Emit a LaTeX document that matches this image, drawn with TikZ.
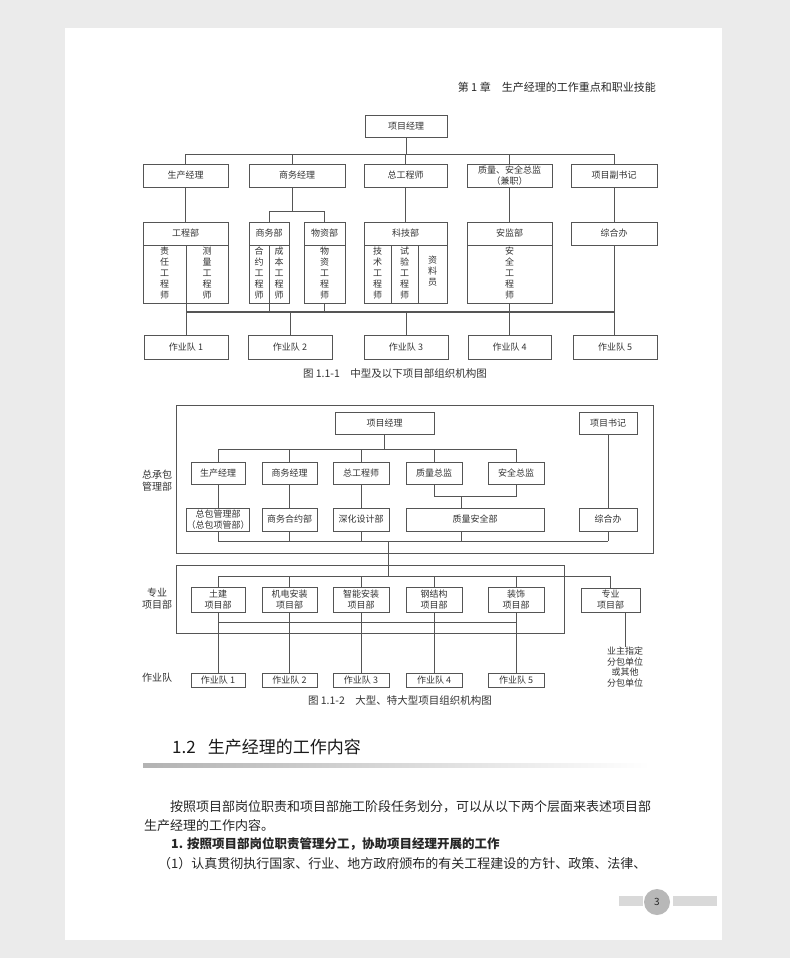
\documentclass[tikz,border=0pt]{standalone}
\usepackage{fontspec}
\setmainfont{Noto Sans CJK SC}
\usetikzlibrary{calc}
\definecolor{ln}{HTML}{555555}
\definecolor{txt}{HTML}{333333}
\definecolor{bgpage}{HTML}{EBEBEB}
\tikzset{
  bx/.style={draw=ln, line width=0.7pt, inner sep=0pt, outer sep=0pt, font=\fontsize{9}{11}\selectfont, text=txt, align=center},
  cn/.style={draw=ln, line width=0.7pt},
  bus/.style={draw=ln, line width=1.1pt},
  lbl/.style={inner sep=0pt, text=txt, align=center, font=\fontsize{9}{11}\selectfont},
  vt/.style={inner sep=0pt, text=txt, align=center, font=\fontsize{9}{11}\selectfont},
  outerbox/.style={draw=ln, line width=0.8pt},
  capt/.style={inner sep=0pt, text=txt, font=\fontsize{10.5}{12}\selectfont},
  body/.style={inner sep=0pt, text=black!85, font=\fontsize{13}{15}\selectfont}
}
\newcommand\mkbox[6]{\node[bx, minimum width={(#4-#2)*1pt}, minimum height={(#5-#3)*1pt}] (#1) at ({(#2+#4)/2},{(#3+#5)/2}) {#6};}
\begin{document}
\begin{tikzpicture}[x=1pt,y=-1pt]
\useasboundingbox (0,0) rectangle (790,958);
\fill[bgpage] (0,0) rectangle (790,958);
\fill[white] (65,28) rectangle (722,940);

% header
\node[inner sep=0pt, anchor=east, text=black!85, font=\fontsize{11}{13}\selectfont] (hdr) at (656,87) {第 1 章\quad 生产经理的工作重点和职业技能};

% ===== Figure 1.1-1 =====
\mkbox{pm}{365}{115}{447}{137}{项目经理}
\mkbox{a1}{143}{164}{228}{187}{生产经理}
\mkbox{a2}{249}{164}{345}{187}{商务经理}
\mkbox{a3}{364}{164}{447}{187}{总工程师}
\mkbox{a4}{467}{164}{552}{187}{质量、安全总监\\（兼职）}
\mkbox{a5}{571}{164}{657}{187}{项目副书记}

\mkbox{b1}{143}{222}{228}{303}{}
\mkbox{b2a}{249}{222}{289}{303}{}
\mkbox{b2b}{304}{222}{345}{303}{}
\mkbox{b3}{364}{222}{447}{303}{}
\mkbox{b4}{467}{222}{552}{303}{}
\mkbox{b5}{571}{222}{657}{245}{综合办}

% headers and dividers
\draw[cn] (143,245) -- (228,245) (186,245) -- (186,303);
\draw[cn] (249,245) -- (289,245) (269,245) -- (269,303);
\draw[cn] (304,245) -- (345,245);
\draw[cn] (364,245) -- (447,245) (391,245) -- (391,303) (418,245) -- (418,303);
\draw[cn] (467,245) -- (552,245);
\node[lbl] (t1) at (185.5,233.5) {工程部};
\node[lbl] (t2) at (269,233.5) {商务部};
\node[lbl] (t3) at (324.5,233.5) {物资部};
\node[lbl] (t4) at (405.5,233.5) {科技部};
\node[lbl] (t5) at (509.5,233.5) {安监部};
\node[vt] (v1) at (164.5,273) {责\\任\\工\\程\\师};
\node[vt] (v2) at (207,273) {测\\量\\工\\程\\师};
\node[vt] (v3) at (259,273) {合\\约\\工\\程\\师};
\node[vt] (v4) at (279,273) {成\\本\\工\\程\\师};
\node[vt] (v5) at (324.5,273) {物\\资\\工\\程\\师};
\node[vt] (v6) at (377.5,273) {技\\术\\工\\程\\师};
\node[vt] (v7) at (404.5,273) {试\\验\\工\\程\\师};
\node[vt] (v8) at (432.5,271) {资\\料\\员};
\node[vt] (v9) at (509.5,273) {安\\全\\工\\程\\师};

\mkbox{c1}{144}{335}{228}{359}{作业队 1}
\mkbox{c2}{248}{335}{332}{359}{作业队 2}
\mkbox{c3}{364}{335}{448}{359}{作业队 3}
\mkbox{c4}{468}{335}{551}{359}{作业队 4}
\mkbox{c5}{573}{335}{657}{359}{作业队 5}

% connectors top
\coordinate (busA) at (0,154);
\coordinate (busB) at (0,312);
\draw[cn] (pm.south) -- (pm.south |- busA);
\draw[cn] (a1.north |- busA) -- (a5.north |- busA);
\draw[cn] (a1.north |- busA) -- (a1.north);
\draw[cn] ([xshift=-5pt]a2.north |- busA) -- ([xshift=-5pt]a2.north);
\draw[cn] (a3.north |- busA) -- (a3.north);
\draw[cn] (a4.north |- busA) -- (a4.north);
\draw[cn] (a5.north |- busA) -- (a5.north);
\coordinate (spl) at (0,211);
\draw[cn] (a1.south) -- (b1.north);
\draw[cn] ([xshift=-5pt]a2.south) -- ([xshift=-5pt]a2.south |- spl);
\draw[cn] (b2a.north |- spl) -- (b2b.north |- spl);
\draw[cn] (b2a.north |- spl) -- (b2a.north);
\draw[cn] (b2b.north |- spl) -- (b2b.north);
\draw[cn] (a3.south) -- (b3.north);
\draw[cn] (a4.south) -- (b4.north);
\draw[cn] (a5.south) -- (b5.north);
\draw[bus] (c1.north |- busB) -- (b5.south |- busB);
\coordinate (b1s) at (186,303);
\draw[cn] (b1s) -- (b1s |- c1.north);
\draw[cn] (b2a.south) -- (b2a.south |- busB);
\draw[cn] (b2b.south) -- (b2b.south |- busB);
\draw[cn] (b4.south) -- (c4.north);
\draw[cn] (b5.south) -- (b5.south |- c5.north);
\draw[cn] (c2.north |- busB) -- (c2.north);
\draw[cn] (c3.north |- busB) -- (c3.north);

\node[capt] (cap1) at (395,374) {图 1.1-1\quad 中型及以下项目部组织机构图};

% ===== Figure 1.1-2 =====
\draw[outerbox] (176,405) rectangle (653,553);
\draw[outerbox] (176,565) rectangle (564,633);

\mkbox{d0}{335}{412}{434}{434}{项目经理}
\mkbox{d9}{579}{412}{637}{434}{项目书记}
\mkbox{e1}{191}{462}{245}{484}{生产经理}
\mkbox{e2}{262}{462}{317}{484}{商务经理}
\mkbox{e3}{333}{462}{389}{484}{总工程师}
\mkbox{e4}{406}{462}{462}{484}{质量总监}
\mkbox{e5}{488}{462}{544}{484}{安全总监}
\mkbox{f1}{191}{508}{245}{531}{总包管理部\\（总包项管部）}
\mkbox{f2}{262}{508}{317}{531}{商务合约部}
\mkbox{f3}{333}{508}{389}{531}{深化设计部}
\mkbox{f4}{406}{508}{544}{531}{质量安全部}
\mkbox{f5}{579}{508}{637}{531}{综合办}

\coordinate (busC) at (0,449);
\coordinate (jn) at (0,496);
\coordinate (busD) at (0,541);
\draw[cn] (d0.south) -- (d0.south |- busC);
\draw[cn] (e1.north |- busC) -- (e5.north |- busC);
\foreach \n in {e1,e2,e3,e4,e5} \draw[cn] (\n.north |- busC) -- (\n.north);
\draw[cn] (e1.south) -- (f1.north);
\draw[cn] (e2.south) -- (f2.north);
\draw[cn] (e3.south) -- (f3.north);
\draw[cn] (e4.south) -- (e4.south |- jn) -- (e5.south |- jn) -- (e5.south);
\draw[cn] ([xshift=-14pt]f4.north |- jn) -- ([xshift=-14pt]f4.north);
\draw[cn] (d9.south) -- (f5.north);
\draw[cn] (f1.south |- busD) -- (f5.south |- busD);
\draw[cn] (f1.south) -- (f1.south |- busD);
\draw[cn] (f2.south) -- (f2.south |- busD);
\draw[cn] (f3.south) -- (f3.south |- busD);
\draw[cn] ([xshift=-14pt]f4.south) -- ([xshift=-14pt]f4.south |- busD);
\draw[cn] (f5.south) -- (f5.south |- busD);

\mkbox{g1}{191}{587}{245}{612}{土建\\项目部}
\mkbox{g2}{262}{587}{317}{612}{机电安装\\项目部}
\mkbox{g3}{333}{587}{389}{612}{智能安装\\项目部}
\mkbox{g4}{406}{587}{462}{612}{钢结构\\项目部}
\mkbox{g5}{488}{587}{544}{612}{装饰\\项目部}
\mkbox{g6}{581}{588}{640}{612}{专业\\项目部}

\coordinate (busE) at (0,576);
\coordinate (busF) at (0,622);
\coordinate (dn1) at (388,541);
\draw[cn] (dn1) -- (dn1 |- busE);
\draw[cn] (g1.north |- busE) -- ([xshift=-0.5pt]g6.north |- busE);
\foreach \n in {g1,g2,g3,g4,g5} \draw[cn] (\n.north |- busE) -- (\n.north);
\draw[cn] ([xshift=-0.5pt]g6.north |- busE) -- ([xshift=-0.5pt]g6.north);
\draw[cn] (g1.south |- busF) -- (g5.south |- busF);
\foreach \n in {g1,g2,g3,g4,g5} \draw[cn] (\n.south) -- (\n.south |- busF);

\mkbox{h1}{191}{673}{245}{687}{作业队 1}
\mkbox{h2}{262}{673}{317}{687}{作业队 2}
\mkbox{h3}{333}{673}{389}{687}{作业队 3}
\mkbox{h4}{406}{673}{462}{687}{作业队 4}
\mkbox{h5}{488}{673}{544}{687}{作业队 5}
\draw[cn] (h1.north |- busF) -- (h1.north);
\draw[cn] (h2.north |- busF) -- (h2.north);
\draw[cn] (h3.north |- busF) -- (h3.north);
\draw[cn] (h4.north |- busF) -- (h4.north);
\draw[cn] (h5.north |- busF) -- (h5.north);

\node[lbl, font=\fontsize{9}{10.5}\selectfont] (own) at (625,667) {业主指定\\分包单位\\或其他\\分包单位};
\coordinate (g6s) at ([xshift=14.5pt]g6.south);
\draw[cn] (g6s) -- (g6s |- own.north);

\node[lbl, font=\fontsize{10}{12}\selectfont] (L1) at (157,481) {总承包\\管理部};
\node[lbl, font=\fontsize{10}{12}\selectfont] (L2) at (157,599) {专业\\项目部};
\node[lbl, font=\fontsize{10}{12}\selectfont] (L3) at (157,678) {作业队};

\node[capt] (cap2) at (400,701) {图 1.1-2\quad 大型、特大型项目组织机构图};

% ===== section text =====
\shade[left color=black!30, right color=white] (143,763) rectangle (650,767);
\node[inner sep=0pt, anchor=west, text=black!90, font=\fontsize{17}{19}\selectfont] (sec) at (172,747) {1.2\hspace{12pt}生产经理的工作内容};

\node[body, anchor=west] (p1) at (170,807) {按照项目部岗位职责和项目部施工阶段任务划分，可以从以下两个层面来表述项目部};
\node[body, anchor=west] (p2) at (144,826) {生产经理的工作内容。};
\node[body, anchor=west, font=\fontsize{12.5}{15}\selectfont\bfseries] (p3) at (171,844) {1. 按照项目部岗位职责管理分工，协助项目经理开展的工作};
\node[body, anchor=west] (p4) at (158,864) {（1）认真贯彻执行国家、行业、地方政府颁布的有关工程建设的方针、政策、法律、};

% page number
\fill[black!15] (619,896) rectangle (643,906);
\fill[black!15] (673,896) rectangle (717,906);
\fill[black!28] (657,902) circle (13);
\node[inner sep=0pt, text=black!85, font=\fontsize{10}{12}\selectfont] (pg) at (657,902) {3};
\end{tikzpicture}
\end{document}
